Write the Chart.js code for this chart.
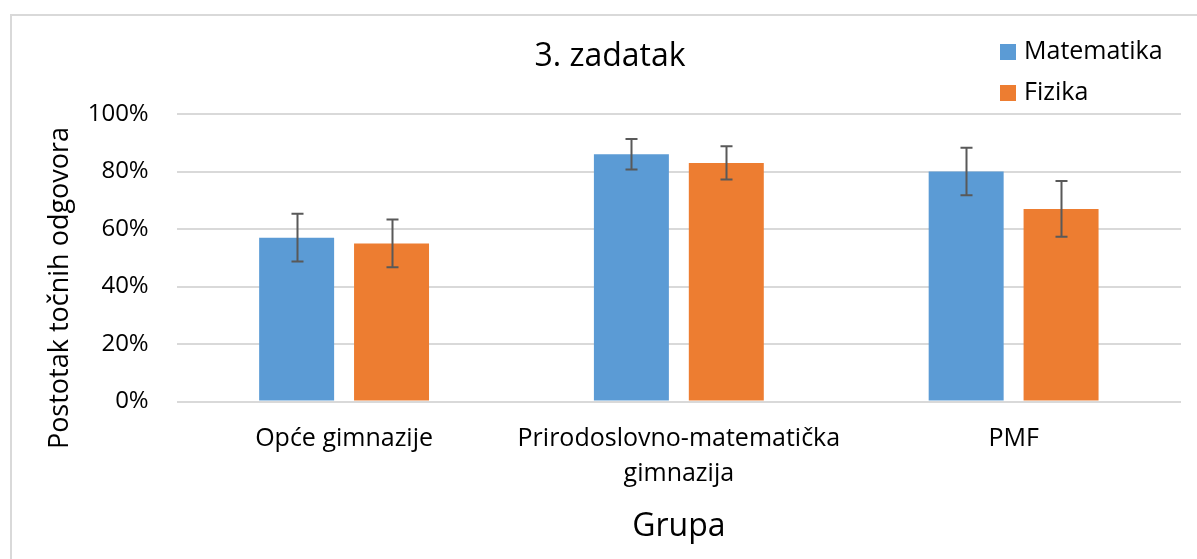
<!DOCTYPE html>
<html>
<head>
<meta charset="utf-8">
<script src="https://cdn.jsdelivr.net/npm/chart.js@4.4.1/dist/chart.umd.min.js"></script>
<style>
  html, body { margin: 0; padding: 0; background: #fff; }
  #wrap { width: 1197px; height: 559px; position: relative; }
</style>
</head>
<body>
<div id="wrap"><canvas id="chart" width="1197" height="559"></canvas></div>
<script>
// chart data
const groups = ["Opće gimnazije", ["Prirodoslovno-matematička", "gimnazija"], "PMF"];
const seriesNames = ["Matematika", "Fizika"];
const mathValues = [57, 86, 80];
const physicsValues = [55, 83, 67];
const mathErrors = [8.3, 5.3, 8.3];
const physicsErrors = [8.3, 5.8, 9.7];
const yTicks = [0, 20, 40, 60, 80, 100];

const FONT = "'Open Sans', sans-serif";
const BLUE = "#5B9BD5";
const ORANGE = "#ED7D31";

// frame, title, y title, legend and error bars
const extras = {
  id: "extras",
  beforeDraw(chart) {
    const ctx = chart.ctx;
    ctx.save();
    ctx.strokeStyle = "#d9d9d9";
    ctx.lineWidth = 2;
    ctx.beginPath();
    ctx.moveTo(11, 559);
    ctx.lineTo(11, 15);
    ctx.lineTo(1197, 15);
    ctx.stroke();
    ctx.restore();
  },
  afterDraw(chart) {
    const ctx = chart.ctx;
    const y = chart.scales.y;
    ctx.save();

    // error bars
    ctx.strokeStyle = "#595959";
    ctx.lineWidth = 2;
    chart.data.datasets.forEach((ds, i) => {
      const meta = chart.getDatasetMeta(i);
      meta.data.forEach((bar, j) => {
        const v = ds.data[j];
        const e = ds.errors[j];
        const top = y.getPixelForValue(v + e);
        const bot = y.getPixelForValue(v - e);
        const x = Math.round(bar.x) + 0.5;
        ctx.beginPath();
        ctx.moveTo(x, top);
        ctx.lineTo(x, bot);
        ctx.moveTo(x - 6, top);
        ctx.lineTo(x + 6, top);
        ctx.moveTo(x - 6, bot);
        ctx.lineTo(x + 6, bot);
        ctx.stroke();
      });
    });

    ctx.fillStyle = "#000";
    ctx.textAlign = "center";
    ctx.textBaseline = "middle";

    // chart title
    ctx.font = "32px " + FONT;
    ctx.fillText("3. zadatak", 610, 57);

    // y axis title
    ctx.font = "27px " + FONT;
    ctx.translate(60, 288);
    ctx.rotate(-Math.PI / 2);
    ctx.fillText("Postotak točnih odgovora", 0, 0);
    ctx.setTransform(1, 0, 0, 1, 0, 0);

    // legend
    const colors = [BLUE, ORANGE];
    ctx.textAlign = "left";
    ctx.font = "25px " + FONT;
    seriesNames.forEach((name, i) => {
      const ly = 52 + i * 41;
      ctx.fillStyle = colors[i];
      ctx.fillRect(1000, ly - 8, 16, 16);
      ctx.fillStyle = "#000";
      ctx.fillText(name, 1024, ly);
    });
    ctx.restore();
  }
};

new Chart(document.getElementById("chart"), {
  type: "bar",
  data: {
    labels: groups,
    datasets: [
      { label: seriesNames[0], data: mathValues, errors: mathErrors, backgroundColor: BLUE },
      { label: seriesNames[1], data: physicsValues, errors: physicsErrors, backgroundColor: ORANGE },
    ],
  },
  options: {
    responsive: false,
    animation: false,
    devicePixelRatio: 1,
    categoryPercentage: 0.567,
    barPercentage: 0.79,
    layout: { padding: { left: 0, right: 16, top: 114, bottom: 0 } },
    plugins: {
      legend: { display: false },
      tooltip: { enabled: false },
      title: { display: false },
    },
    scales: {
      x: {
        grid: { display: false, drawTicks: false },
        border: { display: false },
        ticks: {
          color: "#000",
          font: { family: FONT, size: 25, lineHeight: "35px" },
          padding: 20,
          maxRotation: 0,
          autoSkip: false,
        },
        title: {
          display: true,
          text: "Grupa",
          color: "#000",
          font: { family: FONT, size: 32 },
          padding: { top: 0, bottom: 13 },
        },
        afterFit(scale) { scale.height = 157.5; },
      },
      y: {
        min: 0,
        max: 100,
        afterBuildTicks(scale) { scale.ticks = yTicks.map((v) => ({ value: v })); },
        grid: { color: "#d9d9d9", lineWidth: 2, drawTicks: false },
        border: { display: false },
        ticks: {
          color: "#000",
          font: { family: FONT, size: 24 },
          padding: 28,
          callback: (v) => v + "%",
        },
        afterFit(scale) { scale.width = 176.7; },
      },
    },
  },
  plugins: [extras],
});
</script>
</body>
</html>
